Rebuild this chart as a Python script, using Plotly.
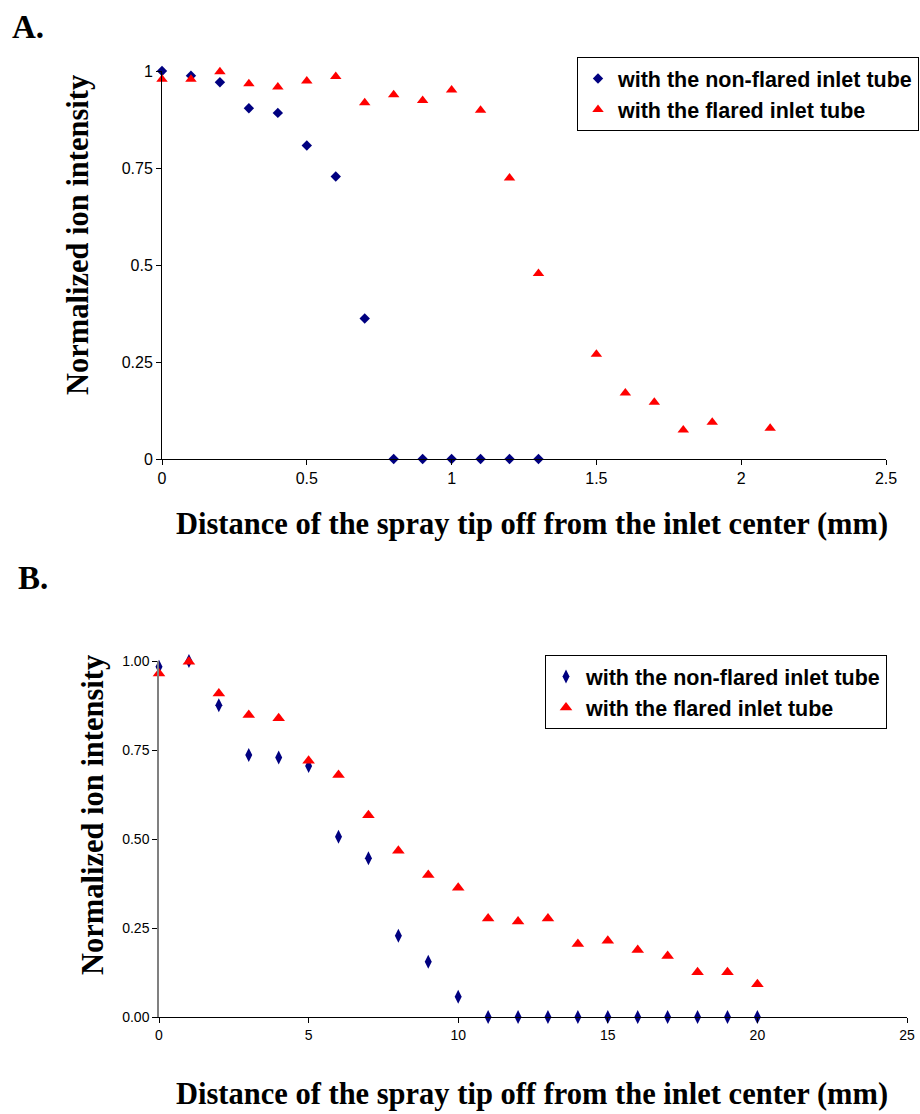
import plotly.graph_objects as go

# ---------- Data ----------
# Panel A (distance in mm, 0-2.1)
a_x_nonflared = [0, 0.1, 0.2, 0.3, 0.4, 0.5, 0.6, 0.7, 0.8, 0.9, 1.0, 1.1, 1.2, 1.3]
a_y_nonflared = [1.0, 0.988, 0.971, 0.904, 0.892, 0.808, 0.728, 0.362, 0, 0, 0, 0, 0, 0]
a_x_flared = [0, 0.1, 0.2, 0.3, 0.4, 0.5, 0.6, 0.7, 0.8, 0.9, 1.0, 1.1, 1.2, 1.3,
              1.5, 1.6, 1.7, 1.8, 1.9, 2.1]
a_y_flared = [0.979, 0.979, 0.998, 0.967, 0.959, 0.974, 0.986, 0.918, 0.939, 0.924,
              0.951, 0.899, 0.724, 0.478, 0.270, 0.170, 0.146, 0.075, 0.095, 0.079]

# Panel B (distance in mm, 0-20)
b_x = list(range(0, 21))
b_y_nonflared = [0.984, 1.0, 0.876, 0.736, 0.729, 0.705, 0.506, 0.446, 0.228, 0.155,
                 0.057, 0, 0, 0, 0, 0, 0, 0, 0, 0, 0]
b_y_flared = [0.965, 0.998, 0.909, 0.848, 0.839, 0.720, 0.680, 0.567, 0.467, 0.399,
              0.363, 0.277, 0.268, 0.277, 0.205, 0.214, 0.188, 0.171, 0.126, 0.126, 0.092]

a_yticks = [0, 0.25, 0.5, 0.75, 1]
a_yticklabels = ["0", "0.25", "0.5", "0.75", "1"]
a_xticks = [0, 0.5, 1, 1.5, 2, 2.5]
a_xticklabels = ["0", "0.5", "1", "1.5", "2", "2.5"]
b_yticks = [0, 0.25, 0.5, 0.75, 1]
b_yticklabels = ["0.00", "0.25", "0.50", "0.75", "1.00"]
b_xticks = [0, 5, 10, 15, 20, 25]
b_xticklabels = ["0", "5", "10", "15", "20", "25"]

name_nonflared = "with the non-flared inlet tube"
name_flared = "with the flared inlet tube"
x_title = "Distance of the spray tip off from the inlet center (mm)"
y_title = "Normalized ion intensity"

NAVY = "#000080"
RED = "#FF0000"
W, H = 920, 1114

def px_x(p):
    return p / W

def px_y(p):
    return 1 - p / H

fig = go.Figure()

fig.add_trace(go.Scatter(x=a_x_nonflared, y=a_y_nonflared, mode="markers", name=name_nonflared,
                         marker=dict(symbol="diamond", size=8, color=NAVY),
                         xaxis="x", yaxis="y", cliponaxis=False, legend="legend",
                         legendgroup="a1"))
fig.add_trace(go.Scatter(x=a_x_flared, y=a_y_flared, mode="markers", name=name_flared,
                         marker=dict(symbol="triangle-up", size=10, color=RED),
                         xaxis="x", yaxis="y", cliponaxis=False, legend="legend",
                         legendgroup="a2"))
fig.add_trace(go.Scatter(x=b_x, y=b_y_nonflared, mode="markers", name=name_nonflared,
                         marker=dict(symbol="diamond-tall", size=10, color=NAVY),
                         xaxis="x2", yaxis="y2", cliponaxis=False, legend="legend2",
                         legendgroup="b1"))
fig.add_trace(go.Scatter(x=b_x, y=b_y_flared, mode="markers", name=name_flared,
                         marker=dict(symbol="triangle-up", size=11, color=RED),
                         xaxis="x2", yaxis="y2", cliponaxis=False, legend="legend2",
                         legendgroup="b2"))

tick_font_a = dict(family="Liberation Sans, Arial, sans-serif", size=16, color="black")
tick_font_b = dict(family="Liberation Sans Narrow, Arial Narrow, Liberation Sans, sans-serif",
                   size=14, color="black")

common_axis = dict(showgrid=False, zeroline=False, showline=True, ticks="outside",
                   ticklen=5, tickwidth=1, tickcolor="black", mirror=False,
                   automargin=False)

legend_font = dict(family="Liberation Sans, Arial, sans-serif", size=21.5,
                   color="black", weight="bold")

fig.update_layout(
    width=W, height=H,
    margin=dict(l=0, r=0, t=0, b=0, pad=0, autoexpand=False),
    paper_bgcolor="white", plot_bgcolor="white",
    showlegend=True,
    xaxis=dict(domain=[px_x(162), px_x(886)], range=[0, 2.5], anchor="y",
               tickvals=a_xticks, ticktext=a_xticklabels, tickfont=tick_font_a,
               linecolor="black", linewidth=1, **common_axis),
    yaxis=dict(domain=[px_y(459), px_y(71)], range=[0, 1], anchor="x",
               tickvals=a_yticks, ticktext=a_yticklabels, tickfont=tick_font_a,
               linecolor="black", linewidth=1, **common_axis),
    xaxis2=dict(domain=[px_x(159), px_x(907)], range=[0, 25], anchor="y2",
                tickvals=b_xticks, ticktext=b_xticklabels, tickfont=tick_font_b,
                linecolor="black", linewidth=1, **common_axis),
    yaxis2=dict(domain=[px_y(1017), px_y(661)], range=[0, 1], anchor="x2",
                tickvals=b_yticks, ticktext=b_yticklabels, tickfont=tick_font_b,
                linecolor="#808080", linewidth=1.5, **common_axis),
    legend=dict(x=px_x(577), y=px_y(57), xanchor="left", yanchor="top",
                bordercolor="black", borderwidth=1, bgcolor="white",
                font=legend_font, tracegroupgap=0, itemwidth=30),
    legend2=dict(x=px_x(545), y=px_y(655), xanchor="left", yanchor="top",
                 bordercolor="black", borderwidth=1, bgcolor="white",
                 font=legend_font, tracegroupgap=0, itemwidth=30),
)

title_font = dict(family="Liberation Serif, Times New Roman, serif", size=30.5,
                  color="black", weight="bold")
label_font = dict(family="Liberation Serif, Times New Roman, serif", size=33,
                  color="black", weight="bold")

annotations = [
    dict(text="A.", x=px_x(10), y=px_y(27), xanchor="left", yanchor="middle",
         font=label_font),
    dict(text="B.", x=px_x(16), y=px_y(578), xanchor="left", yanchor="middle",
         font=label_font),
    dict(text=x_title, x=px_x(532), y=px_y(524), xanchor="center", yanchor="middle",
         font=title_font),
    dict(text=y_title, x=px_x(78), y=px_y(235), xanchor="center", yanchor="middle",
         textangle=-90, font=title_font),
    dict(text=x_title, x=px_x(532), y=px_y(1094), xanchor="center", yanchor="middle",
         font=title_font),
    dict(text=y_title, x=px_x(93), y=px_y(815), xanchor="center", yanchor="middle",
         textangle=-90, font=title_font),
]
for a in annotations:
    a.update(xref="paper", yref="paper", showarrow=False)
fig.update_layout(annotations=annotations)

css_js = (
    "var s=document.createElement('style');"
    "s.innerHTML='html,body{margin:0!important;padding:0!important;overflow:hidden!important;}';"
    "document.head.appendChild(s);"
)
fig.write_html("out.html", post_script=css_js)
